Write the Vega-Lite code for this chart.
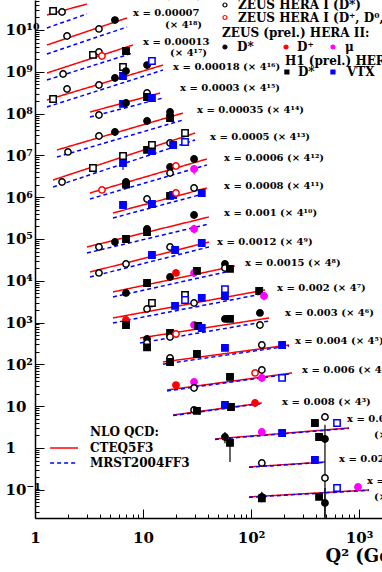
{
"$schema": "https://vega.github.io/schema/vega-lite/v6.json",
"width": 347, "height": 518,
"autosize": "none",
"padding": {"left": 35, "top": 0, "right": 0, "bottom": 54},
"background": "white",
"config": {"view": {"stroke": null}, "font": "DejaVu Serif"},
"datasets": {
"th": [
{"bin":19,"m":"CTEQ5F3","q":1.29,"f":2.29e10},{"bin":19,"m":"CTEQ5F3","q":3.03,"f":4.19e10},
{"bin":19,"m":"MRST2004FF3","q":1.29,"f":1.12e10},{"bin":19,"m":"MRST2004FF3","q":3.03,"f":2.42e10},
{"bin":18,"m":"CTEQ5F3","q":1.29,"f":4.38e9},{"bin":18,"m":"CTEQ5F3","q":7.11,"f":1.94e10},
{"bin":18,"m":"MRST2004FF3","q":1.29,"f":2.67e9},{"bin":18,"m":"MRST2004FF3","q":7.11,"f":1.18e10},
{"bin":17,"m":"CTEQ5F3","q":1.29,"f":9.36e8},{"bin":17,"m":"CTEQ5F3","q":8.08,"f":4.38e9},
{"bin":17,"m":"MRST2004FF3","q":1.29,"f":6.37e8},{"bin":17,"m":"MRST2004FF3","q":8.08,"f":2.82e9},
{"bin":16,"m":"CTEQ5F3","q":1.29,"f":2.12e8},{"bin":16,"m":"CTEQ5F3","q":15.3,"f":1.45e9},
{"bin":16,"m":"MRST2004FF3","q":1.29,"f":1.44e8},{"bin":16,"m":"MRST2004FF3","q":15.3,"f":1.10e9},
{"bin":15,"m":"CTEQ5F3","q":3.23,"f":1.09e8},{"bin":15,"m":"CTEQ5F3","q":14.4,"f":3.11e8},
{"bin":15,"m":"MRST2004FF3","q":3.23,"f":8.29e7},{"bin":15,"m":"MRST2004FF3","q":15.3,"f":2.36e8},
{"bin":14,"m":"CTEQ5F3","q":1.6,"f":1.35e7},{"bin":14,"m":"CTEQ5F3","q":23.5,"f":1.03e8},
{"bin":14,"m":"MRST2004FF3","q":1.6,"f":9.16e6},{"bin":14,"m":"MRST2004FF3","q":23.5,"f":7.03e7},
{"bin":13,"m":"CTEQ5F3","q":1.47,"f":2.58e6},{"bin":13,"m":"CTEQ5F3","q":30.4,"f":3.43e7},
{"bin":13,"m":"MRST2004FF3","q":1.47,"f":1.75e6},{"bin":13,"m":"MRST2004FF3","q":30.4,"f":2.34e7},
{"bin":12,"m":"CTEQ5F3","q":3.23,"f":1.26e6},{"bin":12,"m":"CTEQ5F3","q":39,"f":8.2e6},
{"bin":12,"m":"MRST2004FF3","q":3.23,"f":9.06e5},{"bin":12,"m":"MRST2004FF3","q":39,"f":5.9e6},
{"bin":11,"m":"CTEQ5F3","q":5.27,"f":4.19e5},{"bin":11,"m":"CTEQ5F3","q":39,"f":1.66e6},
{"bin":11,"m":"MRST2004FF3","q":5.27,"f":3.18e5},{"bin":11,"m":"MRST2004FF3","q":39,"f":1.26e6},
{"bin":10,"m":"CTEQ5F3","q":3.03,"f":6.44e4},{"bin":10,"m":"CTEQ5F3","q":40.8,"f":3.36e5},
{"bin":10,"m":"MRST2004FF3","q":3.03,"f":4.62e4},{"bin":10,"m":"MRST2004FF3","q":40.8,"f":2.28e5},
{"bin":9,"m":"CTEQ5F3","q":3.23,"f":1.62e4},{"bin":9,"m":"CTEQ5F3","q":40.8,"f":8.47e4},
{"bin":9,"m":"MRST2004FF3","q":3.23,"f":1.23e4},{"bin":9,"m":"MRST2004FF3","q":40.8,"f":6.44e4},
{"bin":8,"m":"CTEQ5F3","q":5.27,"f":5.4e3},{"bin":8,"m":"CTEQ5F3","q":71,"f":2.26e4},
{"bin":8,"m":"MRST2004FF3","q":5.27,"f":4.1e3},{"bin":8,"m":"MRST2004FF3","q":71,"f":1.81e4},
{"bin":7,"m":"CTEQ5F3","q":5.27,"f":1.29e3},{"bin":7,"m":"CTEQ5F3","q":135,"f":6.02e3},
{"bin":7,"m":"MRST2004FF3","q":5.27,"f":9.78e2},{"bin":7,"m":"MRST2004FF3","q":135,"f":5.0e3},
{"bin":6,"m":"CTEQ5F3","q":9.38,"f":4.28e2},{"bin":6,"m":"CTEQ5F3","q":147,"f":1.29e3},
{"bin":6,"m":"MRST2004FF3","q":9.38,"f":3.25e2},{"bin":6,"m":"MRST2004FF3","q":147,"f":1.09e3},
{"bin":5,"m":"CTEQ5F3","q":15.3,"f":114},{"bin":5,"m":"CTEQ5F3","q":225,"f":291},
{"bin":5,"m":"MRST2004FF3","q":15.3,"f":101},{"bin":5,"m":"MRST2004FF3","q":225,"f":275},
{"bin":4,"m":"CTEQ5F3","q":16.7,"f":24.4},{"bin":4,"m":"CTEQ5F3","q":240,"f":62.3},
{"bin":4,"m":"MRST2004FF3","q":16.7,"f":23.2},{"bin":4,"m":"MRST2004FF3","q":240,"f":60.0},
{"bin":3,"m":"CTEQ5F3","q":19,"f":6.15},{"bin":3,"m":"CTEQ5F3","q":126,"f":11.9},
{"bin":3,"m":"MRST2004FF3","q":19,"f":5.95},{"bin":3,"m":"MRST2004FF3","q":126,"f":11.6},
{"bin":2,"m":"CTEQ5F3","q":46.4,"f":1.64},{"bin":2,"m":"CTEQ5F3","q":808,"f":3.01},
{"bin":2,"m":"MRST2004FF3","q":46.4,"f":1.6},{"bin":2,"m":"MRST2004FF3","q":808,"f":2.95},
{"bin":1,"m":"CTEQ5F3","q":95.8,"f":0.351},{"bin":1,"m":"CTEQ5F3","q":484,"f":0.462},
{"bin":1,"m":"MRST2004FF3","q":95.8,"f":0.345},{"bin":1,"m":"MRST2004FF3","q":484,"f":0.455},
{"bin":0,"m":"CTEQ5F3","q":95.8,"f":0.0673},{"bin":0,"m":"CTEQ5F3","q":1238,"f":0.0989},
{"bin":0,"m":"MRST2004FF3","q":95.8,"f":0.066},{"bin":0,"m":"MRST2004FF3","q":1238,"f":0.097}
],
"pts": [
{"b":19,"s":"H1D","q":1.47,"f":2.85e10},{"b":19,"s":"Z1","q":1.78,"f":2.7e10},
{"b":18,"s":"Z1","q":1.98,"f":7.18e9},{"b":18,"s":"Z1","q":3.91,"f":1.06e10},{"b":18,"s":"ZD","q":5.5,"f":1.73e10,"lo":1.45e10,"hi":2.1e10},
{"b":17,"s":"Z1","q":1.82,"f":8.86e8,"lo":7.5e8,"hi":1.05e9},{"b":17,"s":"H1D","q":3.44,"f":2.53e9},{"b":17,"s":"Z1","q":3.91,"f":2.98e9},{"b":17,"s":"Z1c","q":4.17,"f":2.39e9},{"b":17,"s":"HD","q":6.96,"f":3.15e9},
{"b":16,"s":"H1D","q":1.47,"f":2.23e8,"lo":1.8e8,"hi":2.7e8},{"b":16,"s":"Z1","q":1.98,"f":3.88e8},{"b":16,"s":"Z1","q":3.91,"f":4.83e8},{"b":16,"s":"ZD","q":5.5,"f":7.11e8,"lo":6e8,"hi":8.5e8},{"b":16,"s":"HV","q":6.53,"f":7.94e8},{"b":16,"s":"H1D","q":6.53,"f":1.3e9,"lo":1.1e9,"hi":1.55e9},{"b":16,"s":"ZD","q":6.96,"f":1.04e9},{"b":16,"s":"ZD","q":10.9,"f":1.45e9,"lo":1.2e9,"hi":1.75e9},{"b":16,"s":"H1V","q":12.1,"f":1.81e9},
{"b":15,"s":"Z1","q":3.91,"f":9.26e7},{"b":15,"s":"HV","q":6.53,"f":1.7e8},{"b":15,"s":"ZD","q":6.96,"f":1.79e8},{"b":15,"s":"Z1","q":10.9,"f":3.11e8},{"b":15,"s":"HD","q":10.9,"f":2.49e8},{"b":15,"s":"HV","q":12.1,"f":2.36e8},
{"b":14,"s":"Z1","q":2.02,"f":1.21e7},{"b":14,"s":"Z1","q":3.91,"f":2.91e7},{"b":14,"s":"ZD","q":5.5,"f":3.63e7,"lo":3.0e7,"hi":4.4e7},{"b":14,"s":"ZD","q":10.9,"f":6.65e7},{"b":14,"s":"ZD","q":17.8,"f":1.09e8,"lo":9e7,"hi":1.32e8},{"b":14,"s":"HD","q":17.8,"f":7.85e7},
{"b":13,"s":"Z1","q":1.78,"f":2.31e6,"lo":1.9e6,"hi":2.8e6},{"b":13,"s":"H1D","q":3.44,"f":5.0e6},{"b":13,"s":"HV","q":6.53,"f":6.58e6,"lo":4.5e6,"hi":8e6},{"b":13,"s":"H1D","q":6.53,"f":9.68e6},{"b":13,"s":"HD","q":10.9,"f":1.35e7},{"b":13,"s":"HV","q":12.1,"f":1.27e7},{"b":13,"s":"H1D","q":12.1,"f":1.77e7},{"b":13,"s":"Z1","q":17.8,"f":1.98e7},{"b":13,"s":"HV","q":19,"f":1.77e7},{"b":13,"s":"H1D","q":24.5,"f":3.43e7},{"b":13,"s":"H1V","q":24.5,"f":2.09e7},
{"b":12,"s":"Z1c","q":4.17,"f":1.49e6},{"b":12,"s":"ZD","q":6.96,"f":2.31e6},{"b":12,"s":"HD","q":6.96,"f":2.0e6},{"b":12,"s":"ZD","q":17.8,"f":5.27e6},{"b":12,"s":"Z1","q":17.8,"f":3.79e6},{"b":12,"s":"Z1c","q":20.2,"f":5.57e6},{"b":12,"s":"ZD","q":29.7,"f":8.2e6},{"b":12,"s":"ZM","q":29.7,"f":4.73e6,"lo":3.5e6,"hi":5.8e6},
{"b":11,"s":"HV","q":6.53,"f":6.5e5},{"b":11,"s":"Z1","q":10.9,"f":9.06e5},{"b":11,"s":"HV","q":12.1,"f":6.88e5},{"b":11,"s":"HD","q":17.8,"f":1.07e6},{"b":11,"s":"HV","q":19,"f":1.13e6},{"b":11,"s":"Z1c","q":20.2,"f":1.26e6},{"b":11,"s":"Z1","q":29.7,"f":1.66e6},{"b":11,"s":"HV","q":35,"f":1.26e6},
{"b":10,"s":"Z1","q":3.91,"f":6.44e4},{"b":10,"s":"ZD","q":5.5,"f":8.47e4,"lo":7e4,"hi":1.05e5},{"b":10,"s":"HD","q":6.96,"f":1.0e5},{"b":10,"s":"ZD","q":10.9,"f":1.73e5},{"b":10,"s":"HD","q":10.9,"f":1.47e5},{"b":10,"s":"ZD","q":29.7,"f":3.75e5},{"b":10,"s":"ZM","q":29.7,"f":1.73e5,"lo":1.35e5,"hi":2.2e5},
{"b":9,"s":"Z1","q":3.91,"f":1.54e4},{"b":9,"s":"Z1","q":6.96,"f":2.52e4},{"b":9,"s":"HV","q":12.1,"f":4.14e4},{"b":9,"s":"Z1","q":17.8,"f":6.44e4},{"b":9,"s":"HV","q":19.8,"f":5.46e4},{"b":9,"s":"HV","q":35,"f":8.02e4},
{"b":8,"s":"ZD","q":6.96,"f":5.11e3,"lo":4.2e3,"hi":6.1e3},{"b":8,"s":"HD","q":10.9,"f":8.86e3},{"b":8,"s":"ZD","q":17.8,"f":1.23e4},{"b":8,"s":"ZP","q":20.2,"f":1.54e4},{"b":8,"s":"ZM","q":29.7,"f":1.54e4,"lo":1.25e4,"hi":1.9e4},{"b":8,"s":"HD","q":31.6,"f":1.72e4},{"b":8,"s":"ZD","q":57.4,"f":2.52e4,"lo":2.2e4,"hi":2.9e4},{"b":8,"s":"Z1","q":57.4,"f":2.02e4},{"b":8,"s":"HD","q":63.9,"f":1.92e4},
{"b":7,"s":"ZP","q":6.96,"f":1.15e3},{"b":7,"s":"HD","q":6.96,"f":876},{"b":7,"s":"Z1","q":10.9,"f":2.12e3},{"b":7,"s":"H1D","q":12.1,"f":2.94e3,"lo":2.3e3,"hi":3.6e3},{"b":7,"s":"HV","q":19.8,"f":2.5e3},{"b":7,"s":"H1D","q":24.5,"f":4.57e3},{"b":7,"s":"H1V","q":24.5,"f":3.47e3},{"b":7,"s":"Z1","q":29.7,"f":2.94e3},{"b":7,"s":"HV","q":35,"f":3.88e3},{"b":7,"s":"H1V","q":57.4,"f":6.3e3,"lo":5e3,"hi":7.5e3},{"b":7,"s":"HV","q":57.4,"f":4.33e3},{"b":7,"s":"HD","q":119,"f":5.7e3},{"b":7,"s":"ZM","q":132,"f":4.33e3,"lo":3.4e3,"hi":5.3e3},
{"b":6,"s":"ZD","q":10.9,"f":405},{"b":6,"s":"Z1","q":10.9,"f":325},{"b":6,"s":"HD","q":10.9,"f":255},{"b":6,"s":"HD","q":17.8,"f":564},{"b":6,"s":"Z1","q":17.8,"f":452},{"b":6,"s":"Z1c","q":20.2,"f":534},{"b":6,"s":"ZM","q":29.7,"f":876},{"b":6,"s":"HD","q":32.4,"f":829},{"b":6,"s":"HV","q":35,"f":743},{"b":6,"s":"ZD","q":57.4,"f":1.22e3},{"b":6,"s":"HD","q":63.9,"f":1.22e3},{"b":6,"s":"ZD","q":121,"f":1.7e3,"lo":1.45e3,"hi":2.0e3},{"b":6,"s":"Z1","q":121,"f":876,"lo":700,"hi":1.05e3},
{"b":5,"s":"Z1","q":17.8,"f":142},{"b":5,"s":"HD","q":17.8,"f":114},{"b":5,"s":"HD","q":31.6,"f":177},{"b":5,"s":"HV","q":57.4,"f":247},{"b":5,"s":"Z1","q":126,"f":291,"lo":240,"hi":350},{"b":5,"s":"HV","q":194,"f":291,"lo":250,"hi":330},
{"b":4,"s":"ZP","q":20.2,"f":32.0},{"b":4,"s":"ZM","q":29.7,"f":37.9,"lo":30,"hi":46},{"b":4,"s":"Z1","q":29.7,"f":27.2},{"b":4,"s":"HD","q":63.9,"f":50},{"b":4,"s":"Z1c","q":109,"f":62.3},{"b":4,"s":"Z1","q":126,"f":73.4,"lo":60,"hi":88},{"b":4,"s":"ZM","q":126,"f":47.3,"lo":38,"hi":56},{"b":4,"s":"H1V","q":194,"f":47.3},
{"b":3,"s":"Z1","q":29.7,"f":8.11},{"b":3,"s":"HD","q":31.6,"f":7.68},{"b":3,"s":"HV","q":57.4,"f":10.7},{"b":3,"s":"HD","q":65.3,"f":9.57},{"b":3,"s":"ZP","q":109,"f":11.9,"lo":9.5,"hi":14.5},
{"b":2,"s":"ZD","q":57.4,"f":1.83,"lo":1.3,"hi":2.4},{"b":2,"s":"HD","q":63.9,"f":1.32,"lo":0.46,"hi":1.8},{"b":2,"s":"ZM","q":126,"f":2.41,"lo":2.0,"hi":2.9},{"b":2,"s":"HV","q":194,"f":2.28},{"b":2,"s":"HD","q":391,"f":3.96},{"b":2,"s":"Z1","q":484,"f":5.52,"lo":4.6,"hi":6.6},{"b":2,"s":"HD","q":427,"f":1.83},{"b":2,"s":"ZD","q":484,"f":1.64,"lo":0.0215,"hi":3.6},{"b":2,"s":"H1V","q":626,"f":3.96},
{"b":1,"s":"Z1","q":126,"f":0.438},{"b":1,"s":"HV","q":391,"f":0.516},
{"b":0,"s":"ZD","q":126,"f":0.0673,"lo":0.05,"hi":0.09},{"b":0,"s":"HD","q":126,"f":0.062},{"b":0,"s":"Z1","q":484,"f":0.191,"lo":0.16,"hi":0.23},{"b":0,"s":"HD","q":427,"f":0.0673},{"b":0,"s":"ZD","q":484,"f":0.0483,"lo":0.0215,"hi":0.11},{"b":0,"s":"H1V","q":626,"f":0.11,"lo":0.09,"hi":0.13},{"b":0,"s":"ZM","q":979,"f":0.117,"lo":0.1,"hi":0.135}
],
"labels": [
{"t":"x = 0.00003 (× 4¹⁹)","q":3.59,"f":6.5e10},
{"t":"x = 0.00007","q":8.08,"f":2.55e10},{"t":"(× 4¹⁸)","q":16.0,"f":1.32e10},
{"t":"x = 0.00013","q":10.0,"f":5.16e9},{"t":"(× 4¹⁷)","q":17.8,"f":2.82e9},
{"t":"x = 0.00018 (× 4¹⁶)","q":19.0,"f":1.3e9},
{"t":"x = 0.0003 (× 4¹⁵)","q":22.0,"f":4.1e8},
{"t":"x = 0.00035 (× 4¹⁴)","q":31.6,"f":1.22e8},
{"t":"x = 0.0005 (× 4¹³)","q":41.7,"f":2.75e7},
{"t":"x = 0.0006 (× 4¹²)","q":56.2,"f":8.67e6},
{"t":"x = 0.0008 (× 4¹¹)","q":56.2,"f":1.85e6},
{"t":"x = 0.001 (× 4¹⁰)","q":56.2,"f":4.19e5},
{"t":"x = 0.0012 (× 4⁹)","q":48.4,"f":8.47e4},
{"t":"x = 0.0015 (× 4⁸)","q":88.0,"f":2.67e4},
{"t":"x = 0.002 (× 4⁷)","q":174,"f":6.73e3},
{"t":"x = 0.003 (× 4⁶)","q":207,"f":1.7e3},
{"t":"x = 0.004 (× 4⁵)","q":255,"f":363},
{"t":"x = 0.006 (× 4⁴)","q":297,"f":73.4},
{"t":"x = 0.008 (× 4³)","q":194,"f":12.6},
{"t":"x = 0.012","q":774,"f":4.94},{"t":"(× 4²)","q":1377,"f":2.05},
{"t":"x = 0.02 (× 4)","q":653,"f":0.546},
{"t":"x = 0.03","q":1186,"f":0.162},{"t":"(× 1)","q":1377,"f":0.0673}
],
"legmk": [
{"s":"Z1","q":57.4,"f":3.96e10},{"s":"Z1c","q":57.4,"f":1.99e10},
{"s":"ZD","q":57.4,"f":3.92e9},{"s":"ZP","q":211,"f":3.92e9},{"s":"ZM","q":574,"f":3.92e9},
{"s":"HD","q":215,"f":9.89e8},{"s":"HV","q":574,"f":9.89e8}
],
"legtx": [
{"t":"ZEUS HERA I (D*)","q":75.8,"f":3.96e10},
{"t":"ZEUS HERA I (D⁺, D⁰, Dₛ)","q":75.8,"f":1.99e10},
{"t":"ZEUS (prel.) HERA II:","q":53.9,"f":8.48e9},
{"t":"D*","q":74.2,"f":3.92e9},{"t":"D⁺","q":267,"f":3.92e9},{"t":"μ","q":741,"f":3.92e9},
{"t":"H1 (prel.) HERA II","q":206,"f":1.81e9},
{"t":"D*","q":272,"f":9.89e8},{"t":"VTX","q":774,"f":9.89e8}
],
"nlotx": [
{"t":"NLO QCD:","q":3.23,"f":2.41},
{"t":"CTEQ5F3","q":3.23,"f":1.0},
{"t":"MRST2004FF3","q":3.23,"f":0.438}
],
"nlo": [
{"m":"CTEQ5F3","q":1.38,"f":1.0},{"m":"CTEQ5F3","q":2.5,"f":1.0},
{"m":"MRST2004FF3","q":1.38,"f":0.438},{"m":"MRST2004FF3","q":2.5,"f":0.438}
]
},
"layer": [
{
"data": {"name": "th"},
"transform": [{"filter": "datum.m == 'CTEQ5F3'"}],
"mark": {"type": "line", "strokeWidth": 1.5},
"encoding": {
"x": {"field": "q", "type": "quantitative",
 "scale": {"type": "log", "domain": [1, 1633], "nice": false},
 "axis": {"values": [1,2,3,4,5,6,7,8,9,10,20,30,40,50,60,70,80,90,100,200,300,400,500,600,700,800,900,1000],
  "labelExpr": "abs(log(datum.value)/LN10 - round(log(datum.value)/LN10)) < 0.000001 ? ['1','10','10²','10³'][round(log(datum.value)/LN10)] : ''",
  "tickSize": {"condition": {"test": "abs(log(datum.value)/LN10 - round(log(datum.value)/LN10)) < 0.000001", "value": -9}, "value": -4},
  "tickColor": "black", "tickWidth": 1, "domainColor": "black", "domainWidth": 1.5, "grid": false,
  "labelPadding": 21, "labelFont": "DejaVu Serif", "labelFontWeight": "bold", "labelFontSize": 15, "labelColor": "black",
  "labelOverlap": false, "labelFlush": false,
  "title": "Q² (GeV²)", "titleFont": "DejaVu Serif", "titleFontWeight": "bold", "titleFontSize": 18, "titleColor": "black",
  "titleX": 290, "titleY": 38, "titleAlign": "left", "titleBaseline": "middle"}},
"y": {"field": "f", "type": "quantitative",
 "scale": {"type": "log", "domain": [0.0211, 5.22e10], "nice": false},
 "axis": {"values": [0.03,0.04,0.05,0.06,0.07,0.08,0.09,0.1,0.2,0.3,0.4,0.5,0.6,0.7,0.8,0.9,1,2,3,4,5,6,7,8,9,10,20,30,40,50,60,70,80,90,100,200,300,400,500,600,700,800,900,1000,2000,3000,4000,5000,6000,7000,8000,9000,1e4,2e4,3e4,4e4,5e4,6e4,7e4,8e4,9e4,1e5,2e5,3e5,4e5,5e5,6e5,7e5,8e5,9e5,1e6,2e6,3e6,4e6,5e6,6e6,7e6,8e6,9e6,1e7,2e7,3e7,4e7,5e7,6e7,7e7,8e7,9e7,1e8,2e8,3e8,4e8,5e8,6e8,7e8,8e8,9e8,1e9,2e9,3e9,4e9,5e9,6e9,7e9,8e9,9e9,1e10,2e10,3e10,4e10,5e10],
  "labelExpr": "abs(log(datum.value)/LN10 - round(log(datum.value)/LN10)) < 0.000001 ? ['10⁻²','10⁻¹','\u00a01','10','10²','10³','10⁴','10⁵','10⁶','10⁷','10⁸','10⁹','10¹⁰'][round(log(datum.value)/LN10)+2] : ''",
  "tickSize": {"condition": {"test": "abs(log(datum.value)/LN10 - round(log(datum.value)/LN10)) < 0.000001", "value": -9}, "value": -4},
  "tickColor": "black", "tickWidth": 1, "domainColor": "black", "domainWidth": 1.5, "grid": false,
  "labelAlign": "left", "labelBaseline": "middle", "labelPadding": 39,
  "labelFont": "DejaVu Serif", "labelFontWeight": "bold", "labelFontSize": 15, "labelColor": "black",
  "labelOverlap": false, "labelFlush": false, "title": null}},
"detail": {"field": "bin"},
"color": {"field": "m", "type": "nominal", "scale": {"domain": ["CTEQ5F3", "MRST2004FF3"], "range": ["#ff0000", "#0000ff"]}, "legend": null},
"strokeDash": {"field": "m", "type": "nominal", "scale": {"domain": ["CTEQ5F3", "MRST2004FF3"], "range": [[1, 0], [4, 3]]}, "legend": null}
}
},
{
"data": {"name": "th"},
"transform": [{"filter": "datum.m == 'MRST2004FF3'"}],
"mark": {"type": "line", "strokeWidth": 1.5},
"encoding": {
"x": {"field": "q", "type": "quantitative"},
"y": {"field": "f", "type": "quantitative"},
"detail": {"field": "bin"},
"color": {"field": "m", "type": "nominal", "legend": null},
"strokeDash": {"field": "m", "type": "nominal", "legend": null}
}
},
{
"data": {"name": "nlo"},
"mark": {"type": "line", "strokeWidth": 1.5},
"encoding": {
"x": {"field": "q", "type": "quantitative"},
"y": {"field": "f", "type": "quantitative"},
"color": {"field": "m", "type": "nominal", "legend": null},
"strokeDash": {"field": "m", "type": "nominal", "legend": null}
}
},
{
"data": {"name": "pts"},
"transform": [{"filter": "isValid(datum.lo)"}],
"mark": {"type": "rule", "strokeWidth": 1.2},
"encoding": {
"x": {"field": "q", "type": "quantitative"},
"y": {"field": "lo", "type": "quantitative"},
"y2": {"field": "hi"},
"stroke": {"field": "s", "type": "nominal", "legend": null,
 "scale": {"domain": ["Z1","Z1c","ZD","ZP","ZM","HD","HV","H1D","H1V"], "range": ["#000000","#ff0000","#000000","#ff0000","#ff00ff","#000000","#0000ff","#000000","#0000ff"]}}
}
},
{
"data": {"name": "pts"},
"mark": {"type": "point", "size": 40, "strokeWidth": 1.5, "opacity": 1, "filled": true},
"encoding": {
"x": {"field": "q", "type": "quantitative"},
"y": {"field": "f", "type": "quantitative"},
"shape": {"field": "s", "type": "nominal", "legend": null,
 "scale": {"domain": ["Z1","Z1c","ZD","ZP","ZM","HD","HV","H1D","H1V"], "range": ["circle","circle","circle","circle","circle","square","square","square","square"]}},
"fill": {"field": "s", "type": "nominal", "legend": null,
 "scale": {"domain": ["Z1","Z1c","ZD","ZP","ZM","HD","HV","H1D","H1V"], "range": ["#ffffff","#ffffff","#000000","#ff0000","#ff00ff","#000000","#0000ff","#ffffff","#ffffff"]}},
"stroke": {"field": "s", "type": "nominal", "legend": null}
}
},
{
"data": {"name": "legmk"},
"mark": {"type": "point", "size": 16, "strokeWidth": 1.2, "opacity": 1, "filled": true},
"encoding": {
"x": {"field": "q", "type": "quantitative"},
"y": {"field": "f", "type": "quantitative"},
"shape": {"field": "s", "type": "nominal", "legend": null},
"fill": {"field": "s", "type": "nominal", "legend": null},
"stroke": {"field": "s", "type": "nominal", "legend": null}
}
},
{
"data": {"name": "labels"},
"mark": {"type": "text", "align": "left", "baseline": "middle", "font": "DejaVu Serif", "fontWeight": "bold", "fontSize": 10, "color": "black"},
"encoding": {
"x": {"field": "q", "type": "quantitative"},
"y": {"field": "f", "type": "quantitative"},
"text": {"field": "t"}
}
},
{
"data": {"name": "legtx"},
"mark": {"type": "text", "align": "left", "baseline": "middle", "font": "DejaVu Serif", "fontWeight": "bold", "fontSize": 12, "color": "black"},
"encoding": {
"x": {"field": "q", "type": "quantitative"},
"y": {"field": "f", "type": "quantitative"},
"text": {"field": "t"}
}
},
{
"data": {"name": "nlotx"},
"mark": {"type": "text", "align": "left", "baseline": "middle", "font": "DejaVu Serif", "fontWeight": "bold", "fontSize": 12, "color": "black"},
"encoding": {
"x": {"field": "q", "type": "quantitative"},
"y": {"field": "f", "type": "quantitative"},
"text": {"field": "t"}
}
}
]
}
